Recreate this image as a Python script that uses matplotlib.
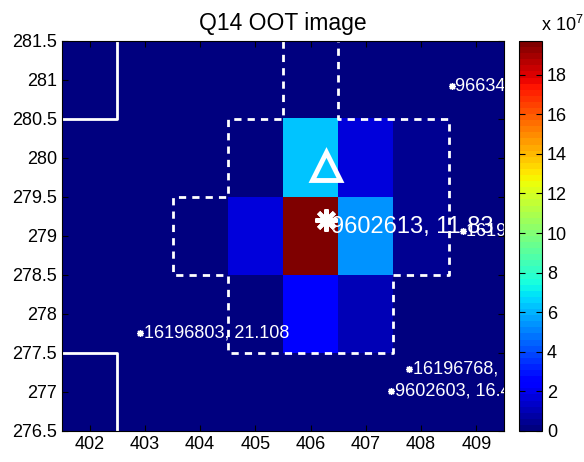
import numpy as np
import matplotlib
matplotlib.use("Agg")
import matplotlib.pyplot as plt

plt.rcParams['font.family'] = ['Liberation Sans', 'DejaVu Sans']
plt.rcParams['mathtext.fontset'] = 'custom'
plt.rcParams['mathtext.rm'] = 'Liberation Sans'
plt.rcParams['mathtext.it'] = 'Liberation Sans'

# Pixel grid
cols = [402, 403, 404, 405, 406, 407, 408, 409]
rows = [277, 278, 279, 280, 281]
# flux values in units of 1e7, rows from y=277 (bottom) to y=281 (top)
flux_277 = [0.2, 0.2, 0.2, 0.2, 0.2, 0.2, 0.2, 0.2]
flux_278 = [0.2, 0.2, 0.2, 0.3, 2.3, 1.2, 0.2, 0.2]
flux_279 = [0.2, 0.2, 0.2, 1.6, 19.6, 5.5, 0.5, 0.2]
flux_280 = [0.2, 0.2, 0.2, 0.3, 6.4, 1.8, 0.5, 0.2]
flux_281 = [0.2, 0.2, 0.2, 0.2, 0.2, 0.2, 0.2, 0.2]
vmax = 19.7

# aperture outline (pixel-edge polygon, open along the top axis edge)
ap_x = [405.5, 405.5, 404.5, 404.5, 403.5, 403.5, 404.5, 404.5, 407.5, 407.5, 408.5, 408.5, 406.5, 406.5]
ap_y = [281.5, 280.5, 280.5, 279.5, 279.5, 278.5, 278.5, 277.5, 277.5, 278.5, 278.5, 280.5, 280.5, 281.5]

# CCD edge lines
edge1_x = [401.5, 402.5, 402.5]
edge1_y = [280.5, 280.5, 281.5]
edge2_x = [401.5, 402.5, 402.5]
edge2_y = [277.5, 277.5, 276.5]

# centroid markers
tri_x, tri_y = 406.28, 279.9
targ_x, targ_y = 406.27, 279.2
targ_label = "9602613, 11.83"

# nearby stars
star_x = [408.55, 402.92, 407.78, 407.45, 408.75]
star_y = [280.92, 277.76, 277.30, 277.01, 279.07]
star_labels = ["9663432, 15.9", "16196803, 21.108", "16196768, 16.2", "9602603, 16.47", "16196777, 17.1"]

data = np.array([flux_277, flux_278, flux_279, flux_280, flux_281])

fig = plt.figure(figsize=(5.84, 4.62), dpi=100)
ax = fig.add_axes([0.1062, 0.0671, 0.7568, 0.8442])
cmap = plt.get_cmap('jet', 64)
im = ax.imshow(data, cmap=cmap, vmin=0, vmax=vmax, origin='lower',
               extent=[cols[0] - 0.5, cols[-1] + 0.5, rows[0] - 0.5, rows[-1] + 0.5],
               aspect='auto', interpolation='nearest')

ax.plot(edge1_x, edge1_y, color='white', lw=2, solid_capstyle='butt')
ax.plot(edge2_x, edge2_y, color='white', lw=2, solid_capstyle='butt')
ax.plot(ap_x, ap_y, color='white', lw=2, dashes=(2.6, 2.2))

ax.plot([tri_x], [tri_y], marker='^', ms=20, mfc='none', mec='white', mew=3.5, ls='none')
ax.plot([targ_x], [targ_y], marker=(8, 2, 0), ms=16, mec='white', mew=3, ls='none')
ax.text(targ_x + 0.1, targ_y - 0.08, targ_label, color='white', fontsize=17,
        ha='left', va='center', clip_on=True)

ax.plot(star_x, star_y, marker=(8, 2, 0), ms=5, mec='white', mew=1, ls='none')
for sx, sy, lab in zip(star_x, star_y, star_labels):
    ax.text(sx + 0.07, sy, lab, color='white', fontsize=13, ha='left', va='center', clip_on=True)

ax.set_xlim(401.5, 409.5)
ax.set_ylim(276.5, 281.5)
ax.set_xticks(cols)
ax.set_yticks([276.5, 277, 277.5, 278, 278.5, 279, 279.5, 280, 280.5, 281, 281.5])
ax.set_yticklabels(['276.5', '277', '277.5', '278', '278.5', '279', '279.5', '280', '280.5', '281', '281.5'])
ax.tick_params(direction='in', top=True, right=True, length=4, labelsize=13, width=0.8)
ax.set_title('Q14 OOT image', fontsize=16.5, pad=8)

cax = fig.add_axes([0.8887, 0.0671, 0.0394, 0.8442])
cb = fig.colorbar(im, cax=cax)
cb.set_ticks([0, 2, 4, 6, 8, 10, 12, 14, 16, 18])
cb.outline.set_linewidth(0.8)
cax.tick_params(direction='in', left=True, right=True, length=4, labelsize=13, width=0.8)
cax.text(0.95, 1.015, r'x 10$^7$', transform=cax.transAxes, fontsize=13, ha='left', va='bottom')

fig.savefig('out.png', dpi=100)
